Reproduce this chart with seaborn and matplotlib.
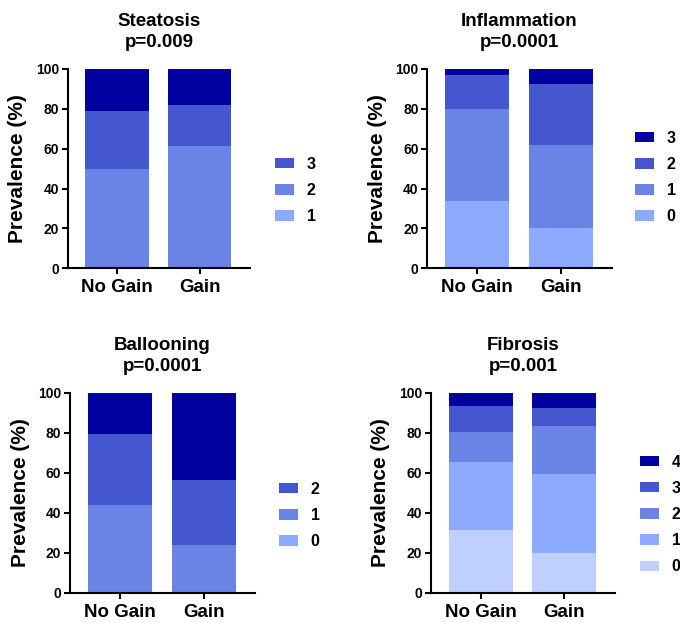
import matplotlib
matplotlib.use("Agg")
import matplotlib.pyplot as plt
import seaborn as sns
from matplotlib.patches import Patch

# ---------------- data ----------------
groups = ["No Gain", "Gain"]

steatosis_grades = ["1", "2", "3"]
steatosis_no_gain = [50, 29, 21]
steatosis_gain = [61.5, 20.5, 18]

inflammation_grades = ["0", "1", "2", "3"]
inflammation_no_gain = [34, 46, 17, 3]
inflammation_gain = [20, 42, 30.5, 7.5]

ballooning_grades = ["0", "1", "2"]
ballooning_no_gain = [44, 35.5, 20.5]
ballooning_gain = [24, 32.5, 43.5]

fibrosis_grades = ["0", "1", "2", "3", "4"]
fibrosis_no_gain = [31.5, 34, 15, 13, 6.5]
fibrosis_gain = [20, 39.5, 24, 9, 7.5]

titles = ["Steatosis", "Inflammation", "Ballooning", "Fibrosis"]
p_values = ["p=0.009", "p=0.0001", "p=0.0001", "p=0.001"]
y_ticks = [0, 20, 40, 60, 80, 100]

# ---------------- style ----------------
palette = ["#BFCFFF", "#8CAAFF", "#6A84E6", "#4457CF", "#0000A0"]

sns.set_style("ticks")
plt.rcParams["font.family"] = ["Liberation Sans", "DejaVu Sans"]
plt.rcParams["font.weight"] = "bold"
for key in ["text.color", "axes.labelcolor", "xtick.color", "ytick.color",
            "axes.edgecolor"]:
    plt.rcParams[key] = "black"

panels = [
    dict(grades=steatosis_grades, ng=steatosis_no_gain, g=steatosis_gain,
         bar_idx=[2, 3, 4], leg_idx=[1, 2, 3],
         rect=[67.7, 69, 250, 268.3], leg=(275, 190.5)),
    dict(grades=inflammation_grades, ng=inflammation_no_gain, g=inflammation_gain,
         bar_idx=[1, 2, 3, 4], leg_idx=[1, 2, 3, 4],
         rect=[427.3, 69, 611.7, 268.3], leg=(635, 177.5)),
    dict(grades=ballooning_grades, ng=ballooning_no_gain, g=ballooning_gain,
         bar_idx=[2, 3, 4], leg_idx=[1, 2, 3],
         rect=[70, 393, 255, 592.7], leg=(279, 515.5)),
    dict(grades=fibrosis_grades, ng=fibrosis_no_gain, g=fibrosis_gain,
         bar_idx=[0, 1, 2, 3, 4], leg_idx=[0, 1, 2, 3, 4],
         rect=[430.7, 393, 615, 592.7], leg=(640, 514.5)),
]

W, H = 680, 623
fig = plt.figure(figsize=(W / 100, H / 100), dpi=100)

for k, pn in enumerate(panels):
    x0, y0, x1, y1 = pn["rect"]
    ax = fig.add_axes([x0 / W, 1 - y1 / H, (x1 - x0) / W, (y1 - y0) / H])
    n = len(pn["grades"])
    # cumulative stacks, drawn from top layer downward
    for i in reversed(range(n)):
        cum = [sum(pn["ng"][: i + 1]), sum(pn["g"][: i + 1])]
        sns.barplot(x=groups, y=cum, color=palette[pn["bar_idx"][i]],
                    saturation=1, width=0.77, errorbar=None, ax=ax,
                    edgecolor="none", linewidth=0)
    ax.set_xlim(-0.6, 1.61)
    ax.set_ylim(0, 100)
    ax.set_yticks(y_ticks)
    ax.set_xlabel("")
    ax.set_ylabel("Prevalence (%)", fontsize=15, fontweight="bold", labelpad=6,
                  color="black")
    ax.set_title(f"{titles[k]}\n{p_values[k]}", fontsize=13.5, fontweight="bold",
                 pad=16, linespacing=1.32, color="black")
    for s in ["top", "right"]:
        ax.spines[s].set_visible(False)
    for s in ["left", "bottom"]:
        ax.spines[s].set_linewidth(1.5)
        ax.spines[s].set_color("black")
    ax.tick_params(axis="y", length=4.3, width=1.5, labelsize=10, pad=2,
                   color="black", labelcolor="black")
    ax.tick_params(axis="x", length=4, width=1.5, labelsize=13.5, pad=4,
                   color="black", labelcolor="black")
    for lbl in ax.get_xticklabels() + ax.get_yticklabels():
        lbl.set_fontweight("bold")

    handles = [Patch(facecolor=palette[pn["leg_idx"][i]], edgecolor="none",
                     label=pn["grades"][i]) for i in reversed(range(n))]
    lx, ly = pn["leg"]
    leg = ax.legend(handles=handles, loc="center left",
                    bbox_to_anchor=(lx / W, 1 - ly / H), bbox_transform=fig.transFigure,
                    frameon=False, handlelength=1.19, handleheight=0.63,
                    handletextpad=0.8, labelspacing=0.7, borderpad=0, borderaxespad=0,
                    prop=dict(weight="bold", size=11.5))
    for t in leg.get_texts():
        t.set_color("black")

fig.savefig("out.png", dpi=100)
